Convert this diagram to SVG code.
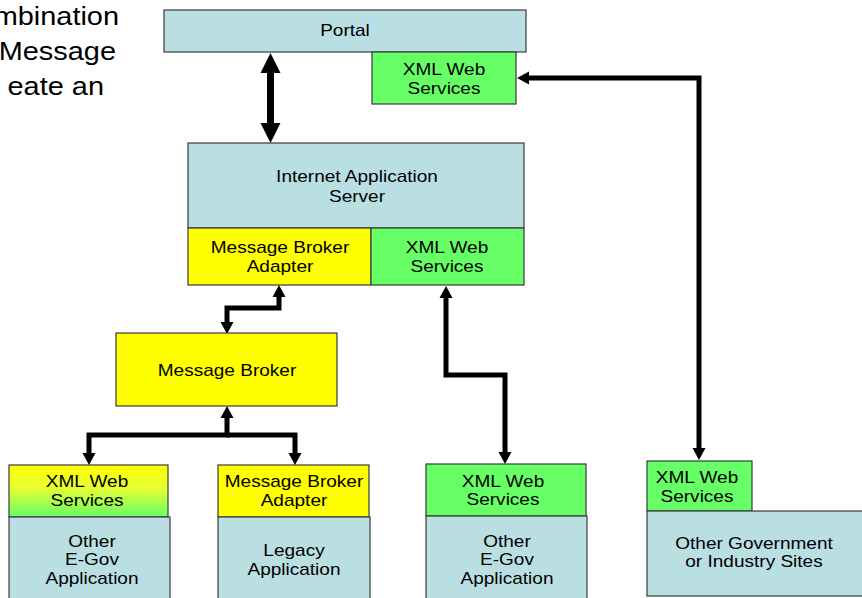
<svg xmlns="http://www.w3.org/2000/svg" width="862" height="598" viewBox="0 0 862 598">
<style>
  .blue { fill: #B9DFE3; stroke: #3a3a3a; stroke-width: 1.2; }
  .green { fill: #66FF66; stroke: #3a3a3a; stroke-width: 1.2; }
  .yellow { fill: #FFFF00; stroke: #3a3a3a; stroke-width: 1.2; }
  .grad { fill: url(#yg); stroke: #3a3a3a; stroke-width: 1.2; }
  text { font-family: "Liberation Sans", Arial, sans-serif; font-size: 17px; fill: #000; text-anchor: middle;
         transform-box: fill-box; transform-origin: center; transform: scaleX(1.12); }
  .intro { font-size: 25.6px; text-anchor: end; transform-origin: right center; transform: scaleX(1.13); }
  .conn { fill: none; stroke: #000; stroke-width: 5; stroke-linejoin: miter; marker-end: url(#ah); }
  .both { marker-start: url(#ah); }
</style>
<defs>
  <linearGradient id="yg" x1="0" y1="0" x2="0" y2="1">
    <stop offset="0" stop-color="#FFFF00"/>
    <stop offset="0.45" stop-color="#E6FF33"/>
    <stop offset="1" stop-color="#66FF66"/>
  </linearGradient>
  <marker id="ah" markerUnits="userSpaceOnUse" markerWidth="12" markerHeight="13" refX="0" refY="6.5" orient="auto-start-reverse" overflow="visible">
    <path d="M0,0 L12,6.5 L0,13 Z" fill="#000"/>
  </marker>
  <marker id="ahBig" markerUnits="userSpaceOnUse" markerWidth="20" markerHeight="20" refX="0" refY="10" orient="auto-start-reverse" overflow="visible">
    <path d="M0,0 L20,10 L0,20 Z" fill="#000"/>
  </marker>
</defs>

<g id="intro-text">
  <text class="intro" x="119" y="25">mbination</text>
  <text class="intro" x="116" y="60">Message</text>
  <text class="intro" x="104" y="95">eate an</text>
</g>

<g id="connectors">
  <path d="M270.5,73 V123" fill="none" stroke="#000" stroke-width="7" marker-start="url(#ahBig)" marker-end="url(#ahBig)"/>
  <path class="conn both" d="M279,297 V308 H227 V322"/>
  <path class="conn both" d="M227,418 V435 H89 V453"/>
  <path class="conn" d="M227,435 H295 V453"/>
  <path class="conn both" d="M446,298 V375 H505 V452"/>
  <path class="conn both" d="M529,78 H699 V448"/>
</g>

<g id="portal">
  <rect class="blue" x="164" y="10" width="362" height="42"/>
  <text x="345" y="36">Portal</text>
</g>
<g id="portal-xml">
  <rect class="green" x="372" y="52" width="144" height="52"/>
  <text x="444" y="75">XML Web</text>
  <text x="444" y="94">Services</text>
</g>

<g id="ias">
  <rect class="blue" x="188" y="143" width="336" height="85"/>
  <text x="357" y="182">Internet Application</text>
  <text x="357" y="202">Server</text>
</g>
<g id="ias-mba">
  <rect class="yellow" x="188" y="228" width="183" height="57"/>
  <text x="280" y="253">Message Broker</text>
  <text x="280" y="272">Adapter</text>
</g>
<g id="ias-xml">
  <rect class="green" x="371" y="228" width="153" height="57"/>
  <text x="447" y="253">XML Web</text>
  <text x="447" y="272">Services</text>
</g>

<g id="message-broker">
  <rect class="yellow" x="116" y="333" width="221" height="73"/>
  <text x="227" y="376">Message Broker</text>
</g>

<g id="egov1-xml">
  <rect class="grad" x="9" y="465" width="159" height="52"/>
  <text x="87" y="487">XML Web</text>
  <text x="87" y="506">Services</text>
</g>
<g id="egov1">
  <rect class="blue" x="9" y="517" width="161" height="90"/>
  <text x="92" y="547">Other</text>
  <text x="92" y="565">E-Gov</text>
  <text x="92" y="584">Application</text>
</g>

<g id="legacy-mba">
  <rect class="yellow" x="218" y="465" width="151" height="52"/>
  <text x="294" y="487">Message Broker</text>
  <text x="294" y="506">Adapter</text>
</g>
<g id="legacy">
  <rect class="blue" x="218" y="517" width="152" height="90"/>
  <text x="294" y="556">Legacy</text>
  <text x="294" y="575">Application</text>
</g>

<g id="egov2-xml">
  <rect class="green" x="426" y="464" width="160" height="52"/>
  <text x="503" y="487">XML Web</text>
  <text x="503" y="505">Services</text>
</g>
<g id="egov2">
  <rect class="blue" x="426" y="516" width="161" height="91"/>
  <text x="507" y="547">Other</text>
  <text x="507" y="565">E-Gov</text>
  <text x="507" y="584">Application</text>
</g>

<g id="sites-xml">
  <rect class="green" x="647" y="461" width="105" height="50"/>
  <text x="697" y="483">XML Web</text>
  <text x="697" y="502">Services</text>
</g>
<g id="sites">
  <rect class="blue" x="647" y="511" width="220" height="85"/>
  <text x="754" y="549">Other Government</text>
  <text x="754" y="567">or Industry Sites</text>
</g>
</svg>
